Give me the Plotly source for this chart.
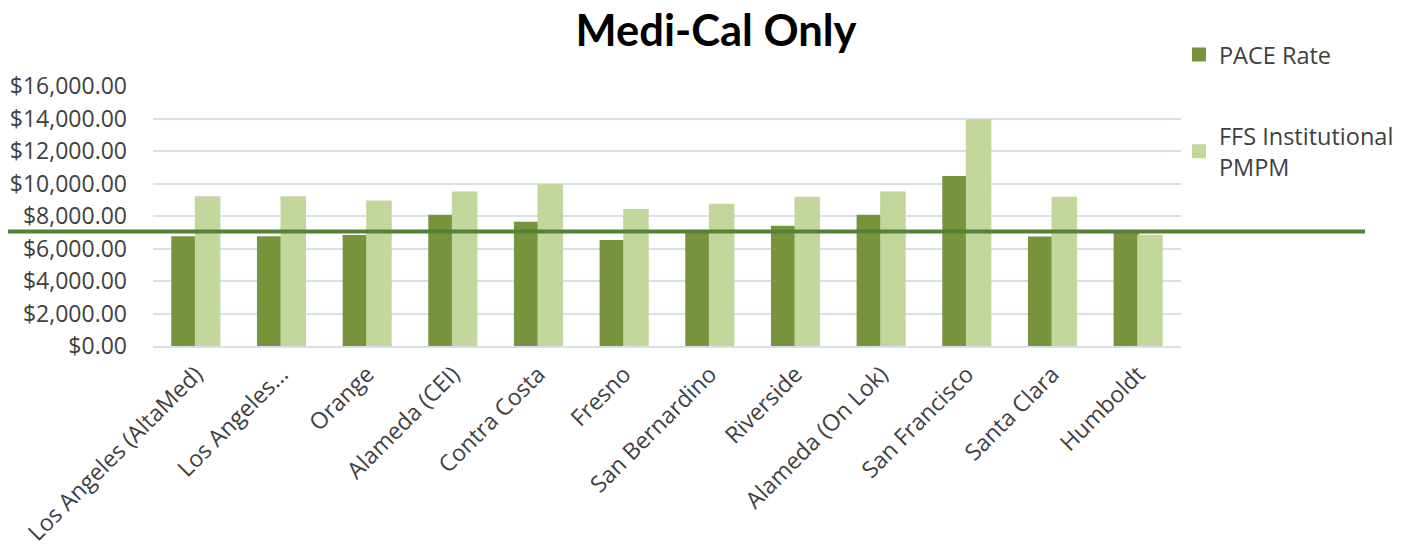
import plotly.graph_objects as go

categories = ["Los Angeles (AltaMed)", "Los Angeles...", "Orange", "Alameda (CEI)", "Contra Costa",
              "Fresno", "San Bernardino", "Riverside", "Alameda (On Lok)", "San Francisco",
              "Santa Clara", "Humboldt"]
pace_rate = [6700, 6700, 6770, 8020, 7590, 6460, 6890, 7340, 8020, 10400, 6670, 7070]
ffs_pmpm = [9150, 9150, 8900, 9440, 9890, 8370, 8700, 9130, 9440, 13870, 9130, 6790]
reference_line = 7040

FONT = "'Open Sans', Lato, sans-serif"
TITLE_FONT = "Lato, 'Open Sans', sans-serif"

fig = go.Figure()
fig.add_trace(go.Bar(x=categories, y=pace_rate, name="PACE Rate",
                     marker=dict(color="#77933C", line=dict(color="#77933C", width=2)),
                     legendgroup="a"))
fig.add_trace(go.Bar(x=categories, y=ffs_pmpm, name="FFS Institutional<br>PMPM",
                     marker=dict(color="#C3D69B", line=dict(color="#C3D69B", width=2)),
                     legendgroup="b"))

fig.add_shape(type="line", xref="paper", yref="y", x0=-0.141, x1=1.179,
              y0=reference_line, y1=reference_line,
              line=dict(color="#538135", width=4), layer="above")

fig.update_layout(
    width=1412, height=553,
    margin=dict(l=153, r=231, t=86, b=207, autoexpand=False),
    paper_bgcolor="white", plot_bgcolor="white",
    barmode="group", bargap=0.45, bargroupgap=0,
    title=dict(text="<b>Medi-Cal Only</b>", x=716/1412, xref="container", xanchor="center",
               y=1 - 31/553, yref="container", yanchor="middle",
               font=dict(family=TITLE_FONT, size=43.5, color="#000000")),
    font=dict(family=FONT, color="#404040"),
    legend=dict(x=0.998, xanchor="left", y=1.205, yanchor="top",
                font=dict(family=FONT, size=23.5, color="#404040"),
                traceorder="grouped", tracegroupgap=48, bgcolor="rgba(0,0,0,0)"),
    showlegend=True,
)
fig.update_yaxes(range=[0, 16000], dtick=2000, tickformat="$,.2f",
                 showgrid=True, gridcolor="#D5DFEF", gridwidth=1.5,
                 zeroline=False, showline=False, automargin=False,
                 tickfont=dict(family=FONT, size=23, color="#404040"),
                 ticks="", ticklabelstandoff=25)
fig.update_xaxes(tickangle=-45, showline=True, linecolor="#D5DFEF", linewidth=1.5,
                 automargin=False,
                 tickfont=dict(family=FONT, size=23, color="#404040"),
                 ticks="", ticklabelstandoff=4)

fig.write_html("out.html")
